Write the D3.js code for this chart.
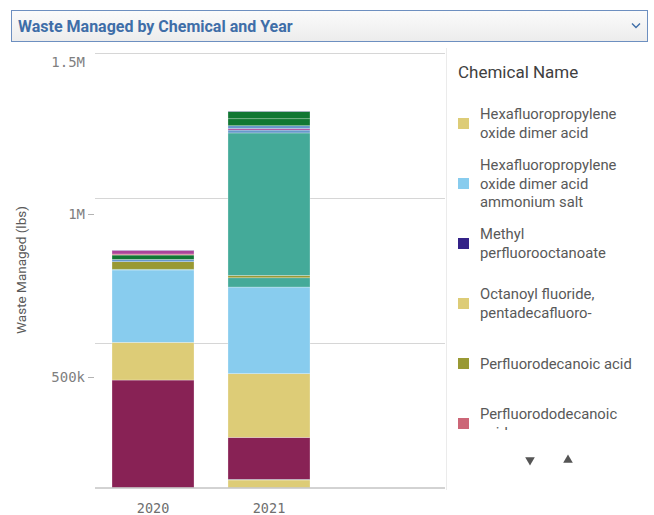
<!DOCTYPE html>
<html><head><meta charset="utf-8">
<script src="https://cdn.jsdelivr.net/npm/d3@7"></script>
<style>
html,body{margin:0;padding:0;background:#fff;}
svg{display:block;}
</style></head>
<body>
<svg id="chart" width="654" height="515"></svg>
<script>
// ---- data ----
const years = ["2020", "2021"];
const chemicals = [
  "Octanoyl fluoride, pentadecafluoro-",
  "Perfluorohexanoic acid",
  "Perfluorooctanoic acid",
  "Hexafluoropropylene oxide dimer acid",
  "Hexafluoropropylene oxide dimer acid ammonium salt",
  "Perfluorononanoic acid",
  "Perfluorodecanoic acid",
  "Perfluorooctanesulfonic acid",
  "Perfluorohexanesulfonic acid",
  "Perfluoroundecanoic acid",
  "Perfluorotetradecanoic acid",
  "Perfluorooctanesulfonyl fluoride",
  "Sodium perfluorooctanoate",
  "Perfluorododecanoic acid",
  "Potassium perfluorooctanesulfonate",
  "Methyl perfluorooctanoate"
];
const chemColors = [
  "#ddcc77", "#44aa99", "#882255", "#ddcc77", "#88ccee", "#44aa99",
  "#999933", "#44aa99", "#6699cc", "#aa4499", "#6699cc", "#117733",
  "#117733", "#cc6677", "#aa4499", "#332288"
];
const values2020 = [0, 0, 371000, 130000, 250000, 2500, 26000, 0, 8000, 0, 0, 15000, 0, 3500, 12000, 1000];
const values2021 = [26000, 2000, 145000, 220000, 299000, 32000, 8000, 492000, 10000, 5000, 10000, 24000, 25000, 0, 0, 1000];
const tickValues = [500000, 1000000, 1500000];
const tickLabels = ["500k", "1M", "1.5M"];
const legendNames = [
  "Hexafluoropropylene oxide dimer acid",
  "Hexafluoropropylene oxide dimer acid ammonium salt",
  "Methyl perfluorooctanoate",
  "Octanoyl fluoride, pentadecafluoro-",
  "Perfluorodecanoic acid",
  "Perfluorododecanoic acid"
];
const legendLines = [
  ["Hexafluoropropylene", "oxide dimer acid"],
  ["Hexafluoropropylene", "oxide dimer acid", "ammonium salt"],
  ["Methyl", "perfluorooctanoate"],
  ["Octanoyl fluoride,", "pentadecafluoro-"],
  ["Perfluorodecanoic acid"],
  ["Perfluorododecanoic", "acid"]
];
const yTitle = "Waste Managed (lbs)";
const chartTitle = "Waste Managed by Chemical and Year";
const legendTitle = "Chemical Name";

// ---- build ----
const svg = d3.select("#chart");
const valuesByYear = {"2020": values2020, "2021": values2021};
const table = years.map(y => {
  const row = {year: y};
  chemicals.forEach((c, i) => row[c] = valuesByYear[y][i]);
  return row;
});
const colorOf = {};
chemicals.forEach((c, i) => colorOf[c] = chemColors[i]);

// header
const defs = svg.append("defs");
const grad = defs.append("linearGradient").attr("id", "hdr").attr("x1", 0).attr("y1", 0).attr("x2", 0).attr("y2", 1);
grad.append("stop").attr("offset", "0%").attr("stop-color", "#fbfbfb");
grad.append("stop").attr("offset", "100%").attr("stop-color", "#ececec");
svg.append("rect").attr("x", 11.5).attr("y", 10.5).attr("width", 636).attr("height", 31)
  .attr("fill", "url(#hdr)").attr("stroke", "#6d8fc0").attr("stroke-width", 1);
svg.append("text").attr("x", 18).attr("y", 31.5)
  .attr("font-family", "Roboto, 'Noto Sans', sans-serif").attr("font-weight", "bold")
  .attr("font-size", 16).attr("fill", "#3f6ea8").text(chartTitle);
svg.append("path").attr("d", "M632,23.5 L636,27.5 L640,23.5").attr("fill", "none")
  .attr("stroke", "#3f6ea8").attr("stroke-width", 1.4);

// scales
const x = d3.scaleBand().domain(years).range([95, 327]).paddingInner(0.293).paddingOuter(0.1466);
const y = d3.scaleLinear().domain([0, 1500000]).range([487.5, 53]);
const yLab = d3.scaleLinear().domain(tickValues).range([377, 214, 62]);

// gridlines
svg.append("g").selectAll("line").data(tickValues).join("line")
  .attr("x1", 95).attr("x2", 445)
  .attr("y1", d => Math.round(y(d)) + 0.5).attr("y2", d => Math.round(y(d)) + 0.5)
  .attr("stroke", "#d6d6d6").attr("stroke-width", 1);

// bars
const stack = d3.stack().keys(chemicals)(table);
svg.append("g").selectAll("g").data(stack).join("g")
  .attr("fill", d => colorOf[d.key])
  .selectAll("rect").data(d => d.filter(p => p[1] - p[0] > 0)).join("rect")
  .attr("x", d => x(d.data.year))
  .attr("width", x.bandwidth())
  .attr("y", d => y(d[1]))
  .attr("height", d => y(d[0]) - y(d[1]))
  .attr("stroke", "rgba(255,255,255,0.45)").attr("stroke-width", 0.6);

// baseline
svg.append("line").attr("x1", 95).attr("x2", 445).attr("y1", y(0) + 0.5).attr("y2", y(0) + 0.5)
  .attr("stroke", "#a6a6a6").attr("stroke-width", 1);

// y axis (labels)
const yAxis = svg.append("g").attr("transform", "translate(94,0)")
  .call(d3.axisLeft(yLab).tickValues(tickValues).tickFormat((d, i) => tickLabels[i]).tickSize(6).tickPadding(3));
yAxis.select(".domain").remove();
yAxis.selectAll(".tick line").attr("stroke", "#b3b3b3").filter(d => d === 1500000).remove();
yAxis.selectAll(".tick text").attr("font-family", "'DejaVu Sans Mono', monospace")
  .attr("font-size", 14).attr("fill", "#7f7f7f");

// x axis
const xAxis = svg.append("g").attr("transform", "translate(0,495)")
  .call(d3.axisBottom(x).tickSize(0).tickPadding(8));
xAxis.select(".domain").remove();
xAxis.selectAll(".tick text").attr("font-family", "'DejaVu Sans Mono', monospace")
  .attr("font-size", 13.5).attr("fill", "#6f6f6f");

// y title
svg.append("text").attr("transform", "translate(26,270) rotate(-90)")
  .attr("text-anchor", "middle").attr("font-family", "Roboto, 'Noto Sans', sans-serif")
  .attr("font-size", 13.5).attr("fill", "#595959").text(yTitle);

// separator
svg.append("line").attr("x1", 446.5).attr("x2", 446.5).attr("y1", 48).attr("y2", 490)
  .attr("stroke", "#ebebeb");

// legend
svg.append("text").attr("x", 458).attr("y", 78)
  .attr("font-family", "Roboto, 'Noto Sans', sans-serif").attr("font-size", 17)
  .attr("fill", "#404040").text(legendTitle);
defs.append("clipPath").attr("id", "legclip").append("rect")
  .attr("x", 450).attr("y", 95).attr("width", 204).attr("height", 335);
const leg = svg.append("g").attr("clip-path", "url(#legclip)");
const lineH = 18.5;
const items = leg.selectAll("g").data(legendNames).join("g")
  .attr("transform", (d, i) => `translate(458,${123.5 + i * 60})`);
items.append("rect").attr("x", 0).attr("y", -5.5).attr("width", 11).attr("height", 11)
  .attr("fill", d => colorOf[d]);
items.each(function(d, i) {
  const lines = legendLines[i];
  const g = d3.select(this);
  lines.forEach((t, j) => {
    g.append("text").attr("x", 22)
      .attr("y", (j - (lines.length - 1) / 2) * lineH)
      .attr("dy", "0.35em")
      .attr("font-family", "Roboto, 'Noto Sans', sans-serif").attr("font-size", 14.8)
      .attr("fill", "#595959").text(t);
  });
});

// legend nav arrows
svg.append("path").attr("d", d3.symbol().type(d3.symbolTriangle).size(40)()).attr("fill", "#555")
  .attr("transform", "translate(530,460) rotate(180)");
svg.append("path").attr("d", d3.symbol().type(d3.symbolTriangle).size(40)()).attr("fill", "#555")
  .attr("transform", "translate(568,460)");
</script>
</body></html>
